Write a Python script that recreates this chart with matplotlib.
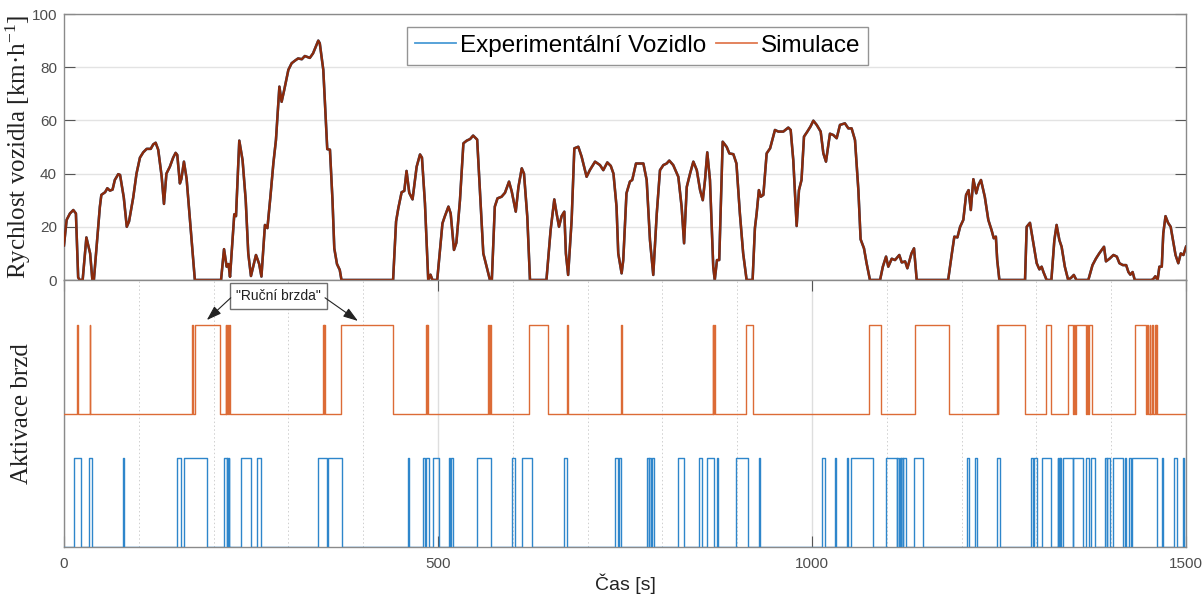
import numpy as np
import matplotlib
matplotlib.use('Agg')
import matplotlib.pyplot as plt
from matplotlib.lines import Line2D
from matplotlib.ticker import MultipleLocator

# ---------------- data ----------------
time_s = [
    0, 3.6, 8, 12.5, 16, 19, 21, 25, 30, 35,
    38, 40, 48, 50, 55, 58, 61.5, 65, 68, 72.6,
    75, 80, 84, 87, 92.6, 97, 101.6, 106, 110.6, 116,
    119.4, 122.6, 126, 130.6, 133.7, 137, 141.6, 146, 149.3, 151.5,
    155, 157, 160.4, 164, 168.4, 175, 210, 214, 217.5, 220,
    222, 227.7, 230, 234.4, 238.8, 243, 246.4, 250, 256.7, 261,
    264, 268.7, 272, 276, 280, 283.4, 288, 291, 294.5, 300,
    304.4, 309, 313, 318, 322, 328.7, 333, 340, 342, 346.7,
    348.8, 352, 355.6, 359, 361.4, 365, 368.7, 371, 440, 444,
    447, 451.4, 455, 458, 461.6, 466, 471.5, 476, 478.6, 482.6,
    487, 490, 492.6, 499, 506, 509, 514, 517, 521.4, 524.6,
    529.4, 534, 538.5, 543, 547, 552.4, 556, 560.6, 565, 569.5,
    572, 576, 579.6, 585, 589.6, 595, 598.6, 604, 607.6, 612,
    615, 619.4, 623, 645, 650.6, 655.5, 658.6, 661.8, 665.3, 668.9,
    671, 674, 678.7, 682.3, 687.6, 692, 698.7, 703, 710, 716.6,
    721, 726.4, 731, 734.6, 738.7, 741, 745.5, 747.7, 752, 756.6,
    759.7, 764.7, 770, 774.6, 779, 783.4, 787.8, 792.5, 796.8, 801.3,
    805.7, 809.2, 814.5, 821.3, 825.7, 829, 832.6, 837, 841.4, 846,
    850.4, 854, 857, 860, 863.6, 868, 870, 873, 876, 880.6,
    886, 889.5, 894.9, 899, 903.6, 908, 912.6, 920.6, 923.7, 926,
    929, 931.6, 935, 939.4, 944, 950.5, 955, 961.7, 968.3, 971.5,
    975, 979.5, 982.6, 986, 989.3, 993.8, 998, 1001.8, 1006.3, 1011.6,
    1015.2, 1018.7, 1024, 1028.5, 1033, 1037.4, 1044, 1048.6, 1053, 1057.5,
    1062, 1065, 1069.5, 1073, 1077.5, 1091, 1094.7, 1099, 1102, 1106.6,
    1111, 1116.7, 1120, 1124.5, 1127.5, 1133, 1136.4, 1140, 1182, 1187,
    1190.3, 1194.4, 1198, 1202.3, 1206, 1209.3, 1212.3, 1215.7, 1219.6, 1222.4,
    1225.9, 1231, 1235.7, 1240, 1243, 1245.8, 1247.6, 1250.5, 1284.8, 1287,
    1291.4, 1296, 1300.4, 1304, 1307, 1309.4, 1313.7, 1320, 1324, 1327,
    1330.7, 1333.7, 1338, 1342.5, 1347, 1350, 1353.5, 1369.4, 1375, 1379.7,
    1384, 1387.4, 1390.4, 1393, 1397.7, 1403, 1407.5, 1411, 1415.6, 1420,
    1423, 1425.6, 1428.6, 1431.5, 1454, 1456.6, 1459, 1462, 1464.4, 1467.6,
    1469.6, 1472.6, 1476, 1479.5, 1483, 1486, 1489.7, 1493, 1496.5, 1500,
]

speed_exp = [
    13, 22.6, 25, 26.3, 25, 1, 0, 0, 16, 10,
    0, 0, 27.5, 32, 33, 34.5, 33.6, 34, 37.6, 39.8,
    39.5, 31, 20, 22, 31, 40, 46, 48, 49.3, 49.3,
    51, 51.6, 49, 39, 28.6, 40, 42.6, 46, 47.8, 47,
    36.3, 38, 44.5, 38, 22.6, 0, 0, 11.6, 5, 6,
    1.2, 24.7, 24, 52.4, 45, 30, 10, 1.5, 9.4, 6,
    1.3, 20.7, 19.5, 31.3, 44, 52.6, 72.7, 67, 71.5, 79,
    81.5, 82.5, 83.3, 83, 84.2, 83.5, 85.2, 90, 89, 79,
    67, 49.2, 49, 30, 11.9, 6, 3.8, 0, 0, 22,
    27, 33, 33.5, 41, 32.8, 30.3, 42.6, 47.2, 46, 28.8,
    0, 2, 0, 0, 21.3, 23.8, 27.6, 25, 11.3, 14,
    30, 51.4, 52.4, 53, 54.3, 52.8, 33.8, 10, 5, 0,
    0, 27.6, 30.7, 31.3, 32.8, 37, 33.3, 25.7, 35, 42,
    40, 23.8, 0, 0, 18.8, 30.3, 25, 20, 24, 25.7,
    10, 1.9, 22.6, 49.5, 50.1, 46.4, 38.8, 41.3, 44.5, 43.2,
    41.3, 44.2, 42.9, 40, 27.6, 10, 2.5, 7.5, 32.6, 37,
    37.6, 43.8, 43.8, 43.8, 37.6, 15, 1.9, 25, 41.3, 43.2,
    43.8, 44.9, 43.2, 38.8, 27.6, 13.8, 35, 40, 44.5, 41.3,
    33.8, 30, 37.6, 48, 37.6, 5, 0, 7.5, 7.5, 52,
    50, 47.6, 47.3, 43.8, 25, 10, 0, 0, 19.5, 25,
    33.8, 31.3, 32, 47.6, 49.5, 56.4, 55.8, 55.8, 57.3, 56.4,
    45, 20.3, 33.8, 37.6, 53.9, 55.8, 57.7, 59.9, 58.3, 55.8,
    47.6, 44.5, 55, 54.5, 53.3, 58.3, 58.9, 57, 57, 52.6,
    33.8, 15.3, 11.9, 6.3, 0, 0, 5, 8.8, 5, 8,
    7.5, 9.4, 6.6, 7, 4.4, 10, 11.9, 0, 0, 10,
    16.3, 16, 20, 22.6, 32, 33.8, 26.3, 37.9, 32.6, 35.7,
    37.6, 31.3, 22.6, 18.8, 15.7, 16.3, 7.5, 0, 0, 20,
    21.5, 13.8, 6.3, 4, 5, 3, 0, 0, 15, 20.7,
    15, 12.5, 5, 0, 1, 1.9, 0, 0, 5.6, 8.1,
    10, 11.3, 12.5, 7, 8, 9.4, 8.8, 6.3, 5.6, 5.6,
    3, 2, 3, 0, 0, 0.5, 1.4, 0, 5, 5,
    17.5, 24, 21.5, 20, 14.4, 9.4, 6.3, 10, 9.4, 12.5,
]

# the simulated speed overlaps the measured one in the picture
speed_sim = list(speed_exp)

# brake activation intervals (start, end) in seconds
brake_sim_on = [
    (17.8, 18.8), (34.3, 35.3), (171.5, 172.5), (175, 208.6), (216, 217.3),
    (218.3, 219.5), (220.3, 221.5), (346.5, 347.5), (348.3, 349.3), (370, 440),
    (484, 485), (486, 487), (567, 568.3), (569.5, 571), (622, 647.5),
    (673, 674), (745, 746), (867, 868), (869, 870.3), (912, 921.6),
    (1076, 1092), (1137.7, 1183.5), (1247.5, 1248.3), (1249.2, 1284.8),
    (1312.8, 1319.5), (1341.8, 1348.5), (1350.2, 1351.2), (1353, 1366.3),
    (1368, 1369), (1369.8, 1374), (1432, 1446.5), (1448.5, 1449.5),
    (1451.5, 1452.5), (1455, 1456), (1458.3, 1459.3), (1460.5, 1461.5),
]

brake_exp_on = [
    (13.8, 22.7), (33.4, 37.8), (79.3, 80.6), (151.5, 156), (160.8, 190.7),
    (213.5, 217.5), (218, 219.2), (220, 221), (236.6, 250), (257.6, 263.4),
    (339, 351), (353.4, 372), (460.3, 461.6), (479.5, 482.6), (483.5, 488),
    (492.9, 501.7), (514.7, 516.2), (517.4, 520.5), (552.6, 570.4), (599.4, 603),
    (612.7, 625.7), (668.4, 672.9), (736.6, 741), (741.7, 745), (779, 781.6),
    (782.5, 785), (786, 788.8), (820.4, 828.9), (849, 853), (860, 869),
    (873.4, 875), (899, 913.9), (929.6, 931), (1013.6, 1017.4), (1030.8, 1032),
    (1046.3, 1047.6), (1052, 1081), (1098.5, 1113.2), (1114, 1116), (1117, 1118.5),
    (1119.5, 1121), (1122, 1126), (1136.7, 1148), (1206.8, 1210.3), (1217.9, 1220),
    (1246.9, 1251.3), (1292.8, 1295.9), (1296.8, 1301), (1307, 1319),
    (1328.4, 1329.5), (1330.2, 1331.5), (1332, 1333.5), (1335, 1348.3),
    (1349.5, 1362.7), (1366.3, 1370.3), (1373, 1378.4), (1391.7, 1394),
    (1395, 1398), (1402.8, 1415.4), (1418.6, 1420), (1424.3, 1426),
    (1427.4, 1460.8), (1467.5, 1468.8), (1484.4, 1487.6), (1495.6, 1497.3),
]

legend_labels = ['Experimentální Vozidlo', 'Simulace']
x_ticks = [0, 500, 1000, 1500]
speed_ticks = [0, 20, 40, 60, 80, 100]


def step_signal(intervals, low, high, t_end=1500):
    xs, ys = [0], [low]
    for a, b in intervals:
        xs += [a, a, b, b]
        ys += [low, high, high, low]
    xs.append(t_end)
    ys.append(low)
    return xs, ys


# ---------------- style ----------------
plt.rcParams['font.family'] = ['Liberation Sans', 'DejaVu Sans']
plt.rcParams['mathtext.fontset'] = 'custom'
plt.rcParams['mathtext.rm'] = 'Liberation Serif'
plt.rcParams['mathtext.it'] = 'Liberation Serif:italic'

BLUE = '#2E86CB'
ORANGE = '#DC6B36'
SPEED = '#8B2A0C'
SPINE = '#8a8a8a'
TICKC = '#4d4d4d'

fig = plt.figure(figsize=(12.02, 5.96), dpi=100)
ax1 = fig.add_axes([0.0532, 0.5302, 0.9335, 0.4463])
ax2 = fig.add_axes([0.0532, 0.0822, 0.9335, 0.4480])

# ---------------- top: speed ----------------
ax1.plot(time_s, speed_exp, color='#0072BD', lw=1.8, zorder=3)
ax1.plot(time_s, speed_sim, color=SPEED, lw=1.8, zorder=4)
ax1.set_xlim(0, 1500)
ax1.set_ylim(0, 100)
ax1.set_yticks(speed_ticks)
ax1.set_xticks([])
ax1.grid(axis='y', color='#e3e3e3', lw=1.0)
ax1.set_axisbelow(True)
ax1.tick_params(axis='y', direction='in', length=8, color='#555555',
                labelsize=11, labelcolor=TICKC, left=True, right=True, pad=5)
ax1.set_ylabel('Rychlost vozidla [km·h$^{-1}$]', family='Liberation Serif',
               fontsize=18, color='#222222')
ax1.yaxis.set_label_coords(-0.0275, 0.5)
for s in ax1.spines.values():
    s.set_color(SPINE)
    s.set_linewidth(1.0)

handles = [Line2D([], [], color='#4A9BD6', lw=1.3),
           Line2D([], [], color='#E07A50', lw=1.3)]
leg = ax1.legend(handles, legend_labels, loc='upper center',
                 bbox_to_anchor=(0.511, 0.952), ncol=2, fontsize=17.5,
                 frameon=True, fancybox=False, handlelength=1.7,
                 handletextpad=0.15, columnspacing=0.4, borderpad=0.33,
                 borderaxespad=0)
leg.get_frame().set_edgecolor('#7a7a7a')
leg.get_frame().set_linewidth(1.0)

# ---------------- bottom: brakes ----------------
xs, ys = step_signal(brake_sim_on, 1.5, 2.5)
ax2.plot(xs, ys, color=ORANGE, lw=1.0, zorder=3)
xs, ys = step_signal(brake_exp_on, 0.0, 1.0)
ax2.plot(xs, ys, color=BLUE, lw=1.0, zorder=3)

ax2.set_xlim(0, 1500)
ax2.set_ylim(0, 3.0)
ax2.set_yticks([])
ax2.set_xticks(x_ticks)
ax2.xaxis.set_minor_locator(MultipleLocator(100))
ax2.grid(axis='x', which='major', color='#dedede', lw=1.0)
ax2.grid(axis='x', which='minor', color='#cfcfcf', lw=0.7, ls=(0, (1.5, 2.5)))
ax2.set_axisbelow(True)
ax2.tick_params(axis='x', which='major', direction='in', length=8,
                color='#555555', labelsize=11, labelcolor=TICKC,
                top=True, bottom=True, pad=7)
ax2.tick_params(axis='x', which='minor', length=0)
ax2.set_xlabel('Čas [s]', fontsize=14, color='#222222', labelpad=2)
ax2.set_ylabel('Aktivace brzd', family='Liberation Serif', fontsize=18,
               color='#222222')
ax2.yaxis.set_label_coords(-0.0275, 0.5)
for s in ax2.spines.values():
    s.set_color(SPINE)
    s.set_linewidth(1.0)

ax2.text(287, 2.82, '"Ruční brzda"', ha='center', va='center', fontsize=10,
         color='#222222', zorder=6,
         bbox=dict(boxstyle='square,pad=0.45', fc='white', ec='#6f6f6f', lw=1.0))
arrow_kw = dict(arrowstyle='-|>,head_length=0.9,head_width=0.3',
                color='#222222', lw=0.8, shrinkA=0, shrinkB=0)
ax2.annotate('', xy=(191, 2.55), xytext=(223, 2.80), arrowprops=arrow_kw,
             zorder=6)
ax2.annotate('', xy=(393, 2.54), xytext=(349, 2.80), arrowprops=arrow_kw,
             zorder=6)

fig.savefig('out.png', dpi=100)
